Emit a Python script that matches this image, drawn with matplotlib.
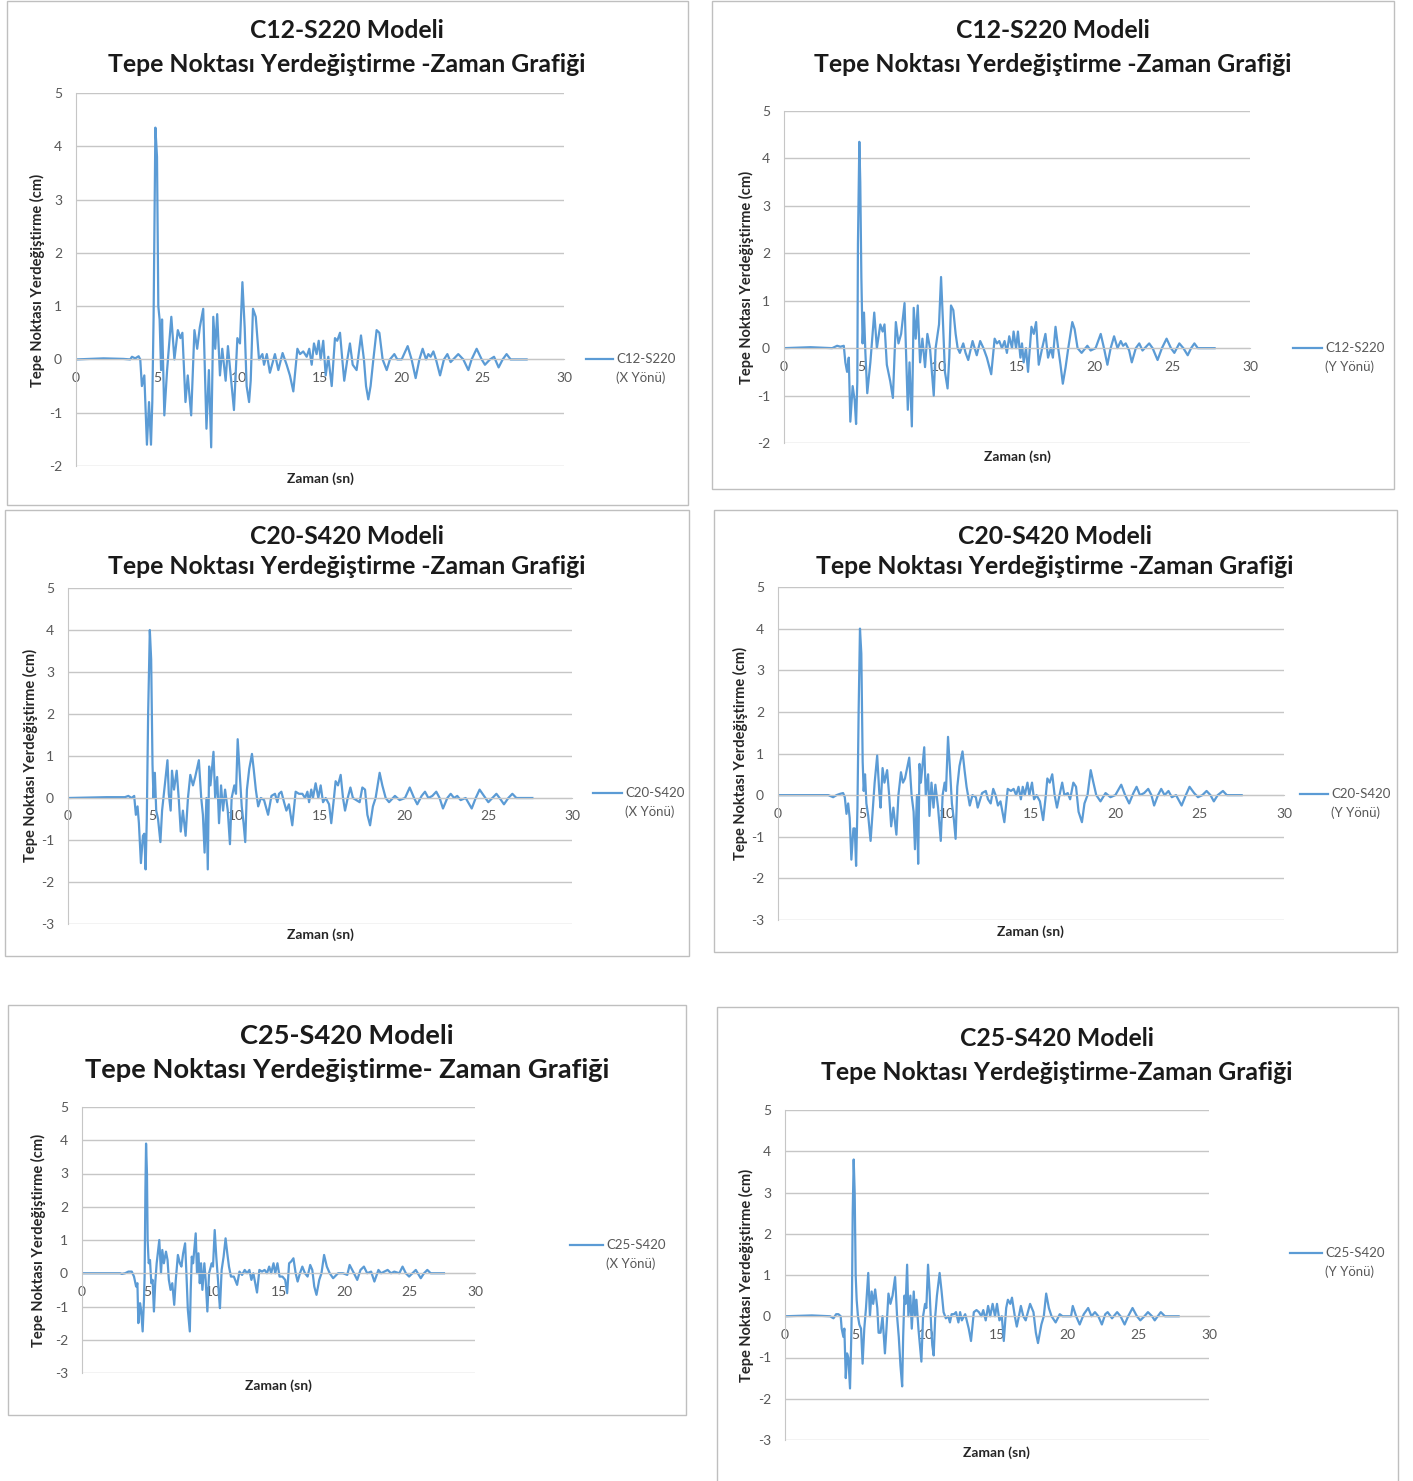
import numpy as np
import matplotlib.pyplot as plt
from matplotlib.patches import Rectangle
from matplotlib.lines import Line2D

plt.rcParams['font.family'] = ['Lato', 'DejaVu Sans']
plt.rcParams['axes.unicode_minus'] = False

# =====================================================
# Data (time in s, displacement in cm)
# =====================================================

# C12-S220, X direction
t_c12_x = [0, 1.69, 2.92, 3.33, 3.44, 3.64, 3.85, 3.95, 4.05, 4.20, 4.36, 4.49, 4.61, 4.69, 4.77, 4.88, 4.98,
           5.06, 5.14, 5.23, 5.29, 5.43, 5.60, 5.86, 6.05, 6.26, 6.42, 6.54, 6.73, 6.87, 7.08, 7.28, 7.45,
           7.61, 7.82, 8.02, 8.17, 8.31, 8.44, 8.56, 8.68, 8.85, 8.99, 9.20, 9.34, 9.51, 9.71, 9.92, 10.08,
           10.23, 10.37, 10.49, 10.64, 10.74, 10.88, 11.05, 11.25, 11.46, 11.56, 11.73, 11.92, 12.23, 12.44,
           12.70, 12.95, 13.15, 13.36, 13.61, 13.77, 13.97, 14.18, 14.34, 14.49, 14.63, 14.79, 14.92, 15.04,
           15.20, 15.35, 15.51, 15.72, 15.92, 16.06, 16.23, 16.37, 16.49, 16.68, 16.84, 17.01, 17.25, 17.52,
           17.70, 17.83, 17.97, 18.11, 18.28, 18.48, 18.65, 18.85, 19.10, 19.30, 19.57, 19.75, 20.02, 20.39,
           20.63, 20.88, 21.11, 21.31, 21.52, 21.66, 21.80, 21.97, 22.13, 22.38, 22.62, 22.83, 23.03, 23.50,
           23.81, 24.12, 24.32, 24.63, 24.94, 25.14, 25.45, 25.70, 25.98, 26.23, 26.47, 26.72, 27.09, 27.70]
d_c12_x = [0, 0.02, 0.01, 0.0, 0.05, 0.02, 0.06, 0.0, -0.5, -0.3, -1.6, -0.8, -1.6, -0.8, 0.8, 4.35, 3.8,
           1.0, 0.75, -0.2, 0.75, -1.05, -0.2, 0.8, 0.0, 0.55, 0.4, 0.5, -0.8, -0.3, -1.05, 0.55, 0.2,
           0.6, 0.95, -1.3, -0.2, -1.65, 0.8, 0.2, 0.85, -0.3, 0.2, -0.4, 0.25, -0.3, -0.95, 0.4, 0.3,
           1.45, 0.6, -0.5, -0.8, -0.4, 0.95, 0.8, 0.0, 0.1, -0.1, 0.1, -0.25, 0.1, -0.2,
           0.12, -0.1, -0.3, -0.6, 0.2, 0.1, 0.15, 0.05, 0.2, -0.1, 0.3, 0.1, 0.35, 0.0,
           0.35, -0.3, 0.05, -0.5, 0.4, 0.35, 0.5, 0.0, -0.4, 0.0, 0.3, -0.1, -0.2, 0.45,
           0.0, -0.5, -0.75, -0.5, 0.0, 0.55, 0.5, 0.0, -0.2, 0.0, 0.1, 0.0, 0.0, 0.25,
           0.0, -0.35, 0.0, 0.2, 0.0, 0.1, 0.05, 0.15, 0.0, -0.3, 0.0, 0.1, -0.05, 0.1,
           0.0, -0.2, 0.0, 0.2, 0.0, -0.1, 0.0, 0.05, -0.15, 0.0, 0.1, 0.0, 0.0, 0.0]

# C12-S220, Y direction
t_c12_y = [0, 1.71, 3.10, 3.42, 3.63, 3.85, 3.95, 4.06, 4.17, 4.27, 4.42, 4.55, 4.64, 4.72, 4.76, 4.85, 4.91,
           4.98, 5.06, 5.15, 5.24, 5.36, 5.56, 5.81, 5.98, 6.20, 6.35, 6.47, 6.62, 6.84, 7.01, 7.20, 7.37,
           7.54, 7.76, 7.97, 8.08, 8.23, 8.35, 8.48, 8.61, 8.76, 8.91, 9.08, 9.23, 9.40, 9.64, 9.76, 9.89,
           9.98, 10.11, 10.24, 10.36, 10.53, 10.64, 10.75, 10.90, 11.05, 11.18, 11.32, 11.54, 11.69, 11.86,
           12.14, 12.41, 12.63, 12.84, 13.06, 13.34, 13.56, 13.71, 13.86, 14.03, 14.20, 14.35, 14.50, 14.68,
           14.78, 14.94, 15.06, 15.22, 15.32, 15.43, 15.58, 15.71, 15.93, 16.08, 16.23, 16.40, 16.62, 16.83,
           17.00, 17.18, 17.31, 17.48, 17.65, 17.80, 17.95, 18.13, 18.30, 18.56, 18.71, 18.90, 19.16, 19.53,
           19.74, 20.06, 20.39, 20.60, 20.82, 21.03, 21.25, 21.47, 21.68, 21.83, 22.00, 22.22, 22.39, 22.65,
           22.87, 23.08, 23.51, 23.73, 24.05, 24.33, 24.63, 24.91, 25.13, 25.45, 25.71, 25.99, 26.21, 26.42,
           26.64, 27.72]
d_c12_y = [0, 0.02, 0.0, 0.05, 0.03, 0.05, -0.3, -0.5, -0.2, -1.55, -0.8, -1.1, -1.6, -0.7, 2.2, 4.35, 3.5,
           1.5, 0.1, 0.75, -0.1, -0.95, -0.3, 0.75, 0.0, 0.5, 0.35, 0.5, -0.35, -0.7, -1.05, 0.55, 0.1,
           0.3, 0.95, -1.3, -0.3, -1.65, 0.85, 0.2, 0.9, -0.3, 0.2, -0.4, 0.3, 0.0, -1.0, 0.0, 0.3,
           0.5, 1.5, 0.5, -0.5, -0.85, -0.2, 0.9, 0.8, 0.3, 0.0, -0.1, 0.1, -0.1, -0.25,
           0.15, -0.15, 0.15, 0.0, -0.2, -0.55, 0.2, 0.1, 0.15, 0.0, 0.15, -0.1, 0.25, 0.0,
           0.35, 0.0, 0.35, -0.2, 0.1, -0.3, 0.0, -0.5, 0.45, 0.3, 0.55, -0.35, 0.0, 0.3,
           -0.2, 0.0, -0.2, 0.45, 0.0, -0.35, -0.75, -0.4, 0.0, 0.55, 0.4, 0.0, -0.1, 0.05,
           -0.05, 0.0, 0.3, 0.0, -0.35, 0.0, 0.25, 0.0, 0.15, 0.05, 0.1, -0.05, -0.3, 0.0,
           0.1, -0.05, 0.1, 0.0, -0.25, 0.0, 0.2, 0.0, -0.1, 0.1, 0.0, -0.15, 0.0, 0.1,
           0.0, 0.0]

# C20-S420, X direction
t_c20_x = [0, 2.31, 3.39, 3.59, 3.79, 3.94, 4.04, 4.14, 4.22, 4.34, 4.46, 4.54, 4.62, 4.69, 4.77, 4.87, 4.95,
           5.03, 5.09, 5.17, 5.25, 5.36, 5.50, 5.60, 5.76, 5.92, 6.00, 6.11, 6.19, 6.31, 6.47, 6.59, 6.71,
           6.84, 7.00, 7.14, 7.28, 7.44, 7.57, 7.79, 7.93, 8.03, 8.13, 8.24, 8.32, 8.40, 8.48, 8.66, 8.76,
           8.88, 8.99, 9.11, 9.23, 9.35, 9.51, 9.64, 9.74, 9.90, 10.00, 10.10, 10.22, 10.34, 10.45, 10.55,
           10.65, 10.79, 10.95, 11.05, 11.18, 11.32, 11.48, 11.67, 11.91, 12.11, 12.32, 12.46, 12.56, 12.70,
           12.86, 13.00, 13.15, 13.35, 13.55, 13.75, 13.95, 14.11, 14.25, 14.35, 14.48, 14.58, 14.74, 14.90,
           15.04, 15.18, 15.34, 15.54, 15.67, 15.83, 15.93, 16.07, 16.23, 16.37, 16.49, 16.65, 16.81, 16.96,
           17.36, 17.52, 17.68, 17.82, 17.98, 18.15, 18.31, 18.55, 18.71, 18.91, 19.11, 19.46, 19.74, 20.06,
           20.34, 20.60, 20.79, 21.05, 21.25, 21.45, 21.69, 21.92, 22.12, 22.32, 22.58, 22.78, 22.98, 23.17,
           23.37, 23.67, 24.03, 24.27, 24.50, 24.76, 25.02, 25.26, 25.50, 25.69, 25.95, 26.21, 26.45, 26.69,
           27.64]
d_c20_x = [0, 0.02, 0.02, 0.05, 0.0, 0.05, -0.4, -0.2, -0.6, -1.55, -0.9, -0.85, -1.7, -0.5, 2.0, 4.0, 3.3,
           0.8, 0.0, 0.6, -0.3, -0.5, -1.05, -0.3, 0.3, 0.9, 0.1, -0.3, 0.65, 0.2, 0.65, 0.0, -0.8,
           -0.3, -0.9, 0.0, 0.55, 0.3, 0.5, 0.9, 0.0, -0.4, -1.3, 0.0, -1.7, 0.75, 0.3, 1.1, 0.0,
           0.5, -0.6, 0.3, -0.3, 0.2, -0.3, -1.1, 0.0, 0.3, 0.1, 1.4, 0.6, -0.2, -0.6, -1.05,
           0.2, 0.7, 1.05, 0.7, 0.2, -0.2, 0.0, -0.05, -0.4, 0.05, 0.1, -0.1, 0.1, 0.15,
           -0.1, -0.3, -0.15, -0.65, 0.15, 0.1, 0.1, 0.0, 0.15, -0.1, 0.2, 0.0, 0.35, 0.0,
           0.3, -0.1, 0.0, -0.15, -0.6, 0.0, 0.4, 0.3, 0.55, 0.0, -0.3, 0.0, 0.25, 0.0,
           -0.1, 0.25, 0.2, -0.4, -0.65, -0.2, 0.0, 0.6, 0.3, 0.0, -0.1, 0.05, -0.05, 0.0,
           0.25, 0.0, -0.15, 0.05, 0.15, 0.0, 0.05, 0.15, 0.0, -0.25, 0.0, 0.1, 0.0, 0.05,
           -0.05, 0.0, -0.25, 0.0, 0.2, 0.05, -0.1, 0.0, 0.1, 0.0, -0.15, 0.0, 0.1, 0.0,
           0.0]

# C20-S420, Y direction
t_c20_y = [0, 2.78, 2.98, 3.27, 3.47, 3.67, 3.86, 3.96, 4.06, 4.16, 4.25, 4.35, 4.47, 4.55, 4.63, 4.71, 4.78,
           4.86, 4.94, 5.02, 5.08, 5.16, 5.24, 5.35, 5.49, 5.61, 5.73, 5.88, 6.00, 6.08, 6.20, 6.31, 6.47,
           6.59, 6.71, 6.84, 7.02, 7.14, 7.29, 7.41, 7.53, 7.78, 7.92, 8.04, 8.12, 8.24, 8.31, 8.39, 8.47,
           8.67, 8.76, 8.90, 8.98, 9.10, 9.22, 9.33, 9.49, 9.65, 9.76, 9.88, 9.96, 10.08, 10.20, 10.31,
           10.43, 10.53, 10.63, 10.76, 10.94, 11.06, 11.18, 11.37, 11.53, 11.73, 11.84, 12.10, 12.32, 12.45,
           12.61, 12.76, 12.90, 13.04, 13.19, 13.42, 13.62, 13.81, 13.97, 14.12, 14.26, 14.40, 14.51, 14.63,
           14.79, 14.90, 15.06, 15.18, 15.33, 15.53, 15.72, 15.88, 15.97, 16.11, 16.26, 16.40, 16.54, 16.69,
           16.85, 16.98, 17.18, 17.32, 17.51, 17.67, 17.82, 18.02, 18.17, 18.35, 18.54, 18.70, 18.87, 19.12,
           19.42, 19.71, 20.00, 20.35, 20.58, 20.82, 21.07, 21.26, 21.46, 21.71, 21.95, 22.14, 22.30, 22.53,
           22.72, 22.92, 23.15, 23.35, 23.60, 23.93, 24.18, 24.40, 24.67, 24.90, 25.16, 25.41, 25.64, 25.84,
           26.07, 26.38, 26.61, 27.49]
d_c20_y = [0, 0.0, 0.0, -0.05, 0.0, 0.03, 0.05, -0.05, -0.45, -0.2, -0.55, -1.55, -0.8, -0.8, -1.7, -0.3, 2.0,
           4.0, 3.4, 0.8, 0.1, 0.5, -0.2, -0.5, -1.1, -0.4, 0.3, 0.95, 0.1, -0.3, 0.65, 0.3, 0.6,
           0.0, -0.75, -0.3, -0.95, 0.0, 0.55, 0.3, 0.4, 0.9, 0.0, -0.4, -1.3, 0.0, -1.65, 0.75, 0.3,
           1.15, 0.0, 0.5, -0.5, 0.3, -0.3, 0.25, -0.3, -1.1, 0.0, 0.3, 0.1, 1.4, 0.6, -0.2,
           -0.6, -1.05, 0.2, 0.7, 1.05, 0.6, 0.2, -0.25, 0.0, -0.05, -0.3, 0.05, 0.1, -0.1,
           -0.2, 0.15, 0.0, -0.25, -0.15, -0.65, 0.15, 0.1, 0.15, 0.0, 0.2, -0.1, 0.2, 0.0,
           0.3, 0.0, 0.3, -0.1, 0.0, -0.15, -0.6, 0.0, 0.4, 0.3, 0.5, 0.0, -0.3, 0.0,
           0.3, 0.0, 0.05, -0.1, 0.3, 0.2, -0.4, -0.65, -0.2, 0.0, 0.6, 0.3, 0.0, -0.15,
           0.05, -0.05, 0.0, 0.25, 0.0, -0.2, 0.05, 0.2, 0.0, 0.05, 0.15, 0.0, -0.25, 0.0,
           0.15, 0.0, 0.1, -0.05, 0.0, -0.25, 0.0, 0.2, 0.05, -0.05, 0.0, 0.1, 0.0, -0.15,
           0.0, 0.1, 0.0, 0.0]

# C25-S420, X direction
t_c25_x = [0, 2.91, 3.04, 3.29, 3.54, 3.80, 3.97, 4.13, 4.23, 4.30, 4.43, 4.51, 4.63, 4.73, 4.78, 4.84, 4.89,
           4.96, 5.01, 5.09, 5.19, 5.29, 5.39, 5.49, 5.59, 5.70, 5.90, 6.03, 6.13, 6.25, 6.41, 6.53, 6.63,
           6.76, 6.89, 7.04, 7.16, 7.32, 7.47, 7.59, 7.72, 7.87, 7.97, 8.08, 8.23, 8.30, 8.38, 8.48, 8.68,
           8.78, 8.89, 8.99, 9.09, 9.19, 9.34, 9.44, 9.57, 9.70, 9.90, 10.00, 10.13, 10.25, 10.38, 10.46,
           10.53, 10.66, 10.81, 10.96, 11.09, 11.22, 11.37, 11.59, 11.84, 12.02, 12.22, 12.42, 12.60, 12.78,
           12.93, 13.08, 13.36, 13.54, 13.74, 13.94, 14.12, 14.29, 14.44, 14.62, 14.75, 14.92, 15.08, 15.30,
           15.51, 15.66, 15.81, 15.96, 16.14, 16.31, 16.46, 16.64, 16.82, 17.02, 17.22, 17.42, 17.58, 17.73,
           17.90, 18.11, 18.28, 18.48, 18.69, 18.91, 19.17, 19.55, 19.92, 20.25, 20.43, 20.76, 21.01, 21.26,
           21.52, 21.77, 22.07, 22.32, 22.63, 22.83, 23.08, 23.33, 23.59, 23.84, 24.22, 24.47, 24.72, 24.97,
           25.23, 25.48, 25.86, 26.11, 26.36, 26.62, 27.63]
d_c25_x = [0, 0.0, -0.02, 0.0, 0.05, 0.05, -0.1, -0.4, -0.3, -1.5, -0.9, -1.1, -1.75, -0.8, -0.1, 2.5, 3.9,
           3.0, 1.0, 0.3, 0.4, -0.3, -0.2, -1.15, -0.3, 0.3, 1.0, 0.0, 0.7, 0.3, 0.65, 0.4, -0.2,
           -0.5, -0.3, -0.95, -0.2, 0.55, 0.3, 0.2, 0.6, 0.9, 0.0, -1.1, -1.75, -0.5, 0.5, 0.3, 1.2,
           0.0, 0.6, -0.3, 0.3, -0.5, 0.3, -0.2, -1.15, 0.0, 0.3, 0.2, 1.3, 0.5, -0.2, -0.7,
           -1.05, 0.1, 0.5, 1.05, 0.6, 0.2, -0.1, -0.1, -0.35, 0.05, -0.05, 0.1, 0.0, 0.1,
           -0.2, 0.0, -0.58, 0.1, 0.05, 0.1, 0.0, 0.2, 0.0, 0.3, 0.0, 0.3, -0.1, -0.1,
           -0.2, -0.6, 0.3, 0.35, 0.45, 0.0, -0.25, 0.0, 0.2, 0.0, -0.1, 0.25, 0.1, -0.4,
           -0.65, -0.2, 0.0, 0.55, 0.2, 0.0, -0.15, 0.0, 0.0, -0.05, 0.25, 0.0, -0.2, 0.1,
           0.2, 0.0, 0.05, -0.25, 0.1, 0.0, 0.05, 0.1, 0.0, 0.05, 0.0, 0.2, 0.0, -0.1,
           0.0, 0.1, -0.15, 0.0, 0.1, 0.0, 0.0]

# C25-S420, Y direction
t_c25_y = [0, 1.90, 3.19, 3.43, 3.62, 3.78, 3.94, 4.01, 4.13, 4.20, 4.30, 4.39, 4.48, 4.60, 4.69, 4.74, 4.79,
           4.86, 4.93, 5.00, 5.07, 5.16, 5.26, 5.38, 5.49, 5.61, 5.73, 5.89, 6.01, 6.13, 6.24, 6.38, 6.53,
           6.62, 6.76, 6.90, 7.07, 7.18, 7.32, 7.46, 7.61, 7.79, 7.93, 8.05, 8.17, 8.29, 8.36, 8.45, 8.54,
           8.64, 8.73, 8.87, 8.97, 9.11, 9.20, 9.30, 9.44, 9.65, 9.77, 9.91, 10.00, 10.12, 10.23, 10.35,
           10.42, 10.52, 10.63, 10.75, 10.94, 11.08, 11.22, 11.38, 11.55, 11.67, 11.79, 11.96, 12.10, 12.27,
           12.39, 12.51, 12.75, 13.00, 13.16, 13.36, 13.55, 13.72, 13.89, 14.03, 14.20, 14.37, 14.52, 14.69,
           14.86, 15.00, 15.17, 15.34, 15.48, 15.65, 15.77, 15.94, 16.06, 16.26, 16.40, 16.55, 16.69, 16.86,
           17.03, 17.34, 17.58, 17.75, 17.90, 18.14, 18.31, 18.48, 18.67, 18.86, 19.15, 19.44, 19.64, 20.24,
           20.36, 20.60, 20.85, 21.14, 21.45, 21.69, 21.93, 22.17, 22.42, 22.66, 22.83, 23.14, 23.50, 23.74,
           24.03, 24.28, 24.59, 24.90, 25.14, 25.43, 25.68, 25.97, 26.16, 26.59, 26.88, 27.85]
d_c25_y = [0, 0.02, 0.0, -0.05, 0.05, 0.05, 0.0, -0.3, -0.5, -0.3, -1.5, -0.9, -1.0, -1.75, -0.5, 0.5, 2.5,
           3.8, 3.0, 1.0, 0.4, 0.0, -0.2, -0.3, -1.15, -0.3, 0.2, 1.05, 0.0, 0.6, 0.3, 0.65, 0.2,
           -0.4, -0.4, 0.0, -0.9, -0.3, 0.55, 0.3, 0.5, 0.95, 0.0, -0.5, -1.2, -1.7, -0.5, 0.5, 0.3,
           1.25, 0.0, 0.5, -0.3, 0.6, 0.0, 0.4, -0.3, -1.1, 0.0, 0.3, 0.2, 1.25, 0.6, -0.3,
           -0.7, -0.95, 0.0, 0.5, 1.05, 0.6, 0.1, -0.05, 0.0, -0.15, 0.05, 0.05, 0.1, -0.15,
           0.1, -0.1, 0.05, -0.3, -0.6, 0.1, 0.15, 0.1, 0.0, 0.15, -0.1, 0.25, 0.0, 0.3,
           0.0, 0.3, -0.1, 0.0, -0.6, 0.2, 0.4, 0.3, 0.45, 0.0, -0.25, 0.0, 0.25, 0.0,
           -0.1, 0.3, 0.1, -0.4, -0.65, -0.2, 0.0, 0.55, 0.2, 0.0, -0.15, 0.05, 0.0, 0.0,
           0.25, 0.0, -0.2, 0.05, 0.2, 0.0, 0.1, 0.0, -0.2, 0.05, 0.1, -0.05, 0.1, 0.0,
           -0.2, 0.0, 0.2, 0.0, -0.1, 0.0, 0.1, 0.0, -0.1, 0.1, 0.0, 0.0]

title_1 = 'Tepe Noktası Yerdeğiştirme -Zaman Grafiği'
title_5 = 'Tepe Noktası Yerdeğiştirme- Zaman Grafiği'
title_6 = 'Tepe Noktası Yerdeğiştirme-Zaman Grafiği'
ylabel = 'Tepe Noktası Yerdeğiştirme (cm)'
xlabel = 'Zaman (sn)'

# =====================================================
# Layout (pixel positions on the 1413 x 1481 canvas)
# =====================================================

W, H = 1413, 1481
fig = plt.figure(figsize=(W / 100, H / 100), dpi=100)


def fx(x):
    return x / W


def fy(y):
    return 1 - y / H


panels = [
    dict(t=t_c12_x, d=d_c12_x, model='C12-S220 Modeli', sub=title_1, name='C12-S220', dirn='(X Yönü)',
         box=(7, 1, 688, 505), plot=(76, 93, 564, 466), ymin=-2, tx=347, ty=(30, 64), tfs=17.8,
         ylx=37, yly=280, xlx=320, xly=479, leg=(586, 613, 359)),
    dict(t=t_c12_y, d=d_c12_y, model='C12-S220 Modeli', sub=title_1, name='C12-S220', dirn='(Y Yönü)',
         box=(712, 1, 1394, 489), plot=(784, 111, 1250, 443), ymin=-2, tx=1053, ty=(30, 65), tfs=17.8,
         ylx=746, yly=277, xlx=1017, xly=457, leg=(1293, 1322, 348)),
    dict(t=t_c20_x, d=d_c20_x, model='C20-S420 Modeli', sub=title_1, name='C20-S420', dirn='(X Yönü)',
         box=(5, 510, 689, 956), plot=(68, 588, 572, 924), ymin=-3, tx=347, ty=(536, 567), tfs=17.8,
         ylx=30, yly=755, xlx=320, xly=935, leg=(593, 622, 793)),
    dict(t=t_c20_y, d=d_c20_y, model='C20-S420 Modeli', sub=title_1, name='C20-S420', dirn='(Y Yönü)',
         box=(714, 510, 1397, 952), plot=(778, 587, 1284, 920), ymin=-3, tx=1055, ty=(536, 567), tfs=17.8,
         ylx=740, yly=753, xlx=1030, xly=932, leg=(1300, 1328, 794)),
    dict(t=t_c25_x, d=d_c25_x, model='C25-S420 Modeli', sub=title_5, name='C25-S420', dirn='(X Yönü)',
         box=(8, 1005, 686, 1415), plot=(82, 1107, 475, 1373), ymin=-3, tx=347, ty=(1036, 1070), tfs=19.6,
         ylx=38, yly=1240, xlx=278, xly=1386, leg=(570, 603, 1245)),
    dict(t=t_c25_y, d=d_c25_y, model='C25-S420 Modeli', sub=title_6, name='C25-S420', dirn='(Y Yönü)',
         box=(717, 1007, 1398, 1490), plot=(785, 1110, 1209, 1440), ymin=-3, tx=1057, ty=(1038, 1073), tfs=17.8,
         ylx=746, yly=1275, xlx=996, xly=1453, leg=(1290, 1322, 1253)),
]

blue = '#5B9BD5'
grid_col = '#c6c6c6'
tick_col = '#595959'

for p in panels:
    bx0, by0, bx1, by1 = p['box']
    fig.add_artist(Rectangle((fx(bx0), fy(by1)), (bx1 - bx0) / W, (by1 - by0) / H,
                             transform=fig.transFigure, fill=False, edgecolor='#bfbfbf', lw=1))

    l, t, r, b = p['plot']
    ax = fig.add_axes([fx(l), fy(b), (r - l) / W, (b - t) / H])
    ax.plot(p['t'], p['d'], color=blue, lw=1.6)
    ax.set_xlim(0, 30)
    ax.set_ylim(p['ymin'], 5)
    ax.set_xticks(np.arange(0, 31, 5))
    ax.set_yticks(np.arange(p['ymin'], 6, 1))
    ax.grid(axis='y', color=grid_col, lw=1)
    ax.set_axisbelow(True)
    for s in ['top', 'right']:
        ax.spines[s].set_visible(False)
    ax.spines['bottom'].set_position(('data', 0))
    ax.spines['bottom'].set_color(grid_col)
    ax.spines['left'].set_color(grid_col)
    ax.tick_params(axis='both', length=0, labelsize=10, colors=tick_col)
    ax.tick_params(axis='x', pad=9)
    ax.tick_params(axis='y', pad=10)
    ax.patch.set_alpha(0)

    fig.text(fx(p['tx']), fy(p['ty'][0]), p['model'], ha='center', va='center',
             fontsize=p['tfs'], fontweight='bold', color='#1a1a1a')
    fig.text(fx(p['tx']), fy(p['ty'][1]), p['sub'], ha='center', va='center',
             fontsize=p['tfs'], fontweight='bold', color='#1a1a1a')
    fig.text(fx(p['ylx']), fy(p['yly']), ylabel, rotation=90, ha='center', va='center',
             fontsize=10.5, fontweight='bold', color='#262626')
    fig.text(fx(p['xlx']), fy(p['xly']), xlabel, ha='center', va='center',
             fontsize=10, fontweight='bold', color='#262626')

    lx0, lx1, ly = p['leg']
    fig.add_artist(Line2D([fx(lx0), fx(lx1)], [fy(ly), fy(ly)], color=blue, lw=1.6,
                          transform=fig.transFigure))
    fig.text(fx(lx1 + 3), fy(ly), p['name'], ha='left', va='center', fontsize=9.5, color=tick_col)
    fig.text(fx(lx1 + 3), fy(ly + 19), p['dirn'], ha='left', va='center', fontsize=9.5, color=tick_col)

plt.savefig('out.png', dpi=100)
